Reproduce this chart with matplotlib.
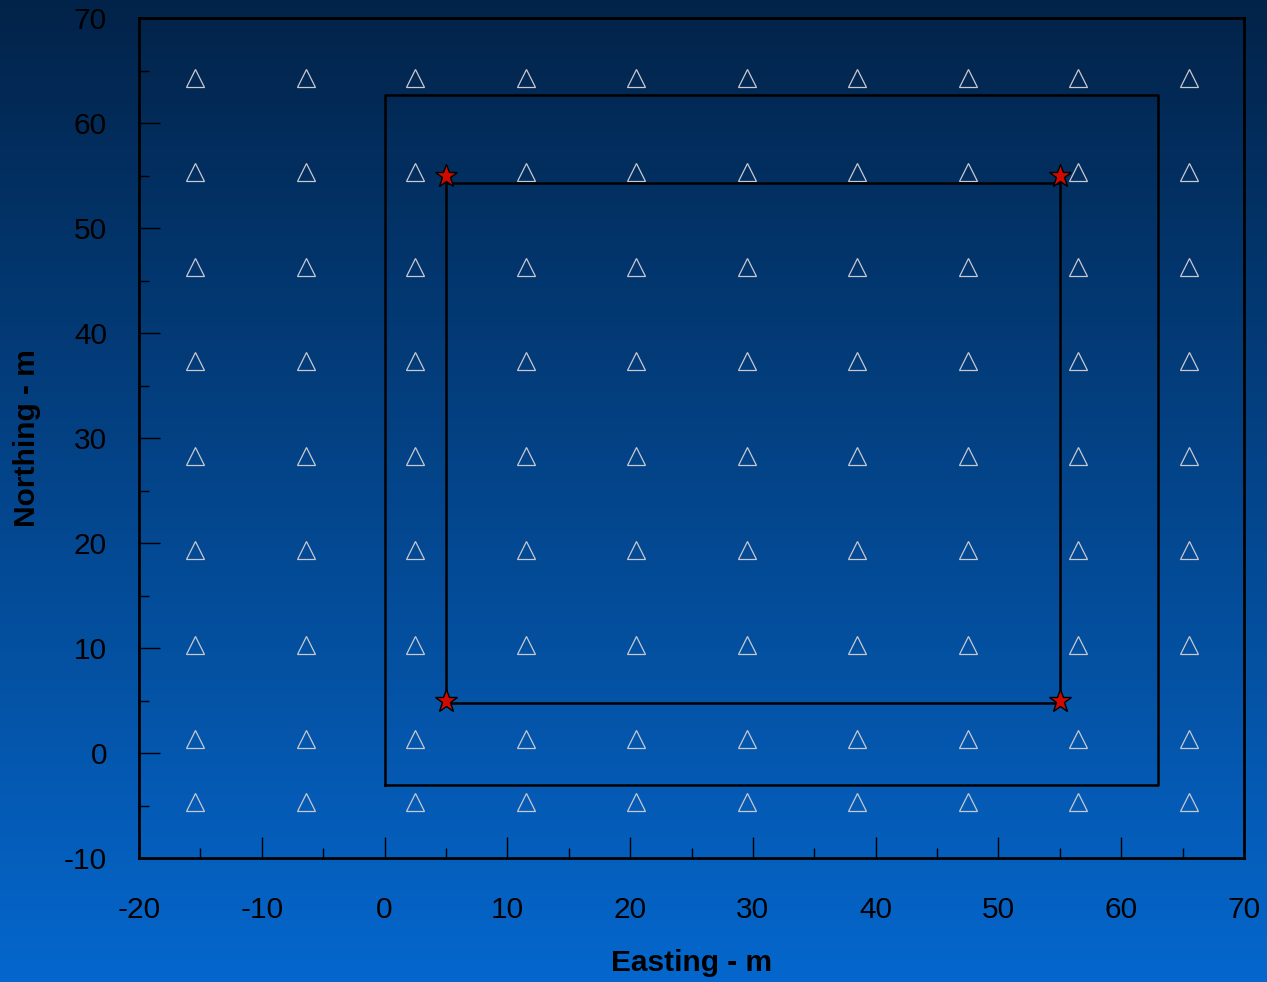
import numpy as np
import matplotlib
matplotlib.use("Agg")
import matplotlib.pyplot as plt
from matplotlib.colors import LinearSegmentedColormap

# Data
grid_x = [-15.4, -6.4, 2.5, 11.5, 20.5, 29.5, 38.5, 47.5, 56.5, 65.5]
grid_y = [64.3, 55.3, 46.3, 37.3, 28.3, 19.3, 10.3, 1.3, -4.7]
outer_x = [0, 63, 63, 0, 0]
outer_y = [-3, -3, 62.7, 62.7, -3]
inner_x = [5, 55, 55, 5, 5]
inner_y = [4.8, 4.8, 54.3, 54.3, 4.8]
star_x = [5, 55, 5, 55]
star_y = [5, 5, 55, 55]
xticks = [-20, -10, 0, 10, 20, 30, 40, 50, 60, 70]
yticks = [-10, 0, 10, 20, 30, 40, 50, 60, 70]

plt.rcParams['font.family'] = ['Liberation Sans', 'DejaVu Sans']
plt.rcParams['axes.unicode_minus'] = False

fig = plt.figure(figsize=(12.67, 9.82), dpi=100)

# Gradient background
bg = fig.add_axes([0, 0, 1, 1], zorder=-10)
cmap = LinearSegmentedColormap.from_list("bg", ["#022349", "#0567cd"])
grad = np.linspace(0, 1, 256).reshape(-1, 1)
bg.imshow(grad, aspect="auto", cmap=cmap, extent=[0, 1, 1, 0], origin="upper")
bg.set_axis_off()

ax = fig.add_axes([139/1267, 1 - 858/982, (1244-139)/1267, (858-18)/982])
ax.patch.set_alpha(0)

gx, gy = np.meshgrid(grid_x, grid_y)
ax.plot(gx.ravel(), gy.ravel(), linestyle="none", marker="^", markersize=13,
        markerfacecolor="none", markeredgecolor="#c8c8d0", markeredgewidth=0.9)
ax.plot(outer_x, outer_y, color="black", linewidth=1.8)
ax.plot(inner_x, inner_y, color="black", linewidth=1.8)
ax.plot(star_x, star_y, linestyle="none", marker="*", markersize=17,
        markerfacecolor="#d00a00", markeredgecolor="black", markeredgewidth=1.0, zorder=5)

ax.set_xlim(-20, 70)
ax.set_ylim(-10, 70)
ax.set_xticks(xticks)
ax.set_yticks(yticks)
ax.set_xticks(np.arange(-15, 70, 10), minor=True)
ax.set_yticks(np.arange(-5, 70, 10), minor=True)
ax.tick_params(which="major", direction="in", length=15, width=1, color="black",
               labelsize=21.5, labelcolor="black")
ax.tick_params(which="minor", direction="in", length=7.5, width=1, color="black")
ax.tick_params(axis="x", which="major", pad=27)
ax.tick_params(axis="y", which="major", pad=23)
for s in ax.spines.values():
    s.set_linewidth(2)
    s.set_color("black")

fig.text(692/1267, 1 - 963/982, "Easting - m", ha="center", va="center",
         fontsize=21.5, fontweight="bold", color="black")
fig.text(27/1267, 1 - 438/982, "Northing - m", ha="center", va="center",
         rotation=90, fontsize=21.5, fontweight="bold", color="black")

fig.savefig("out.png", dpi=100)
